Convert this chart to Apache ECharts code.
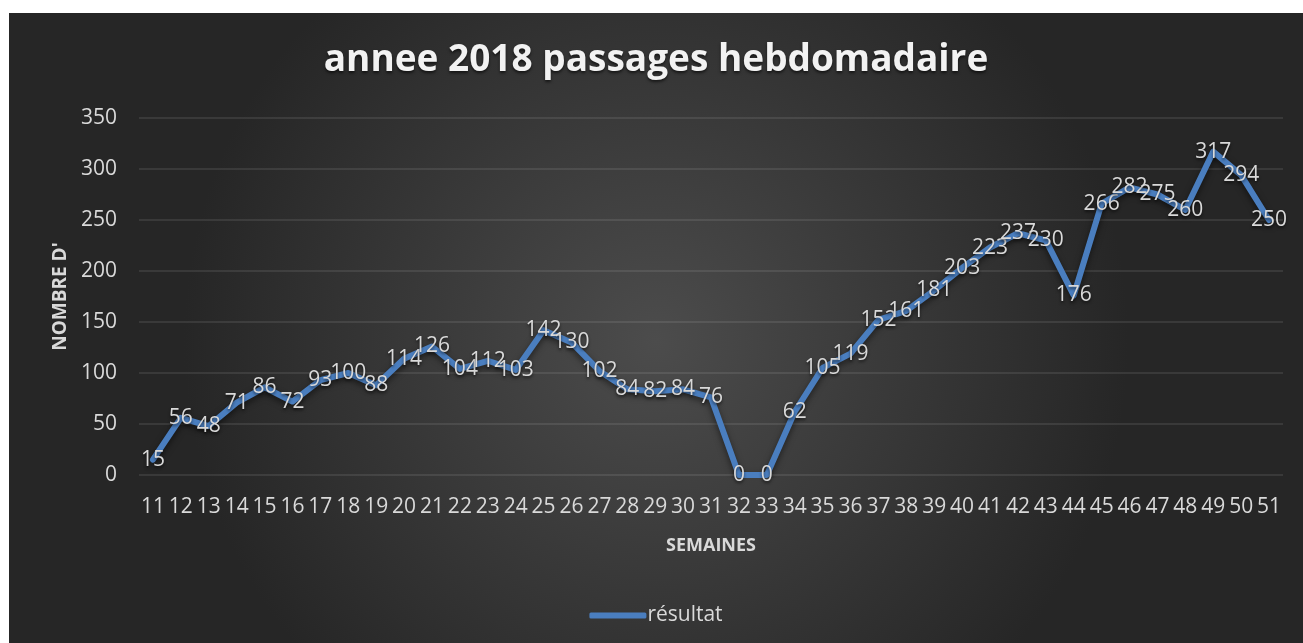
<!DOCTYPE html>
<html>
<head>
<meta charset="utf-8">
<title>annee 2018 passages hebdomadaire</title>
<script src="https://cdn.jsdelivr.net/npm/echarts@6/dist/echarts.min.js"></script>
<style>
  html, body { margin: 0; padding: 0; background: #ffffff; }
  #main { position: absolute; left: 9px; top: 13px; width: 1294px; height: 630px; }
</style>
</head>
<body>
<div id="main"></div>
<script>
// semaines 11 -> 51
const semaines = ['11','12','13','14','15','16','17','18','19','20',
  '21','22','23','24','25','26','27','28','29','30',
  '31','32','33','34','35','36','37','38','39','40',
  '41','42','43','44','45','46','47','48','49','50','51'];
const resultat = [15, 56, 48, 71, 86, 72, 93, 100, 88, 114,
  126, 104, 112, 103, 142, 130, 102, 84, 82, 84,
  76, 0, 0, 62, 105, 119, 152, 161, 181, 203,
  223, 237, 230, 176, 266, 282, 275, 260, 317, 294,
  250];

const police = '"Open Sans", "DejaVu Sans", sans-serif';
const texte = '#d9d9d9';
const bleu = '#4a7ebf';
const ombre = { textShadowColor: 'rgba(0,0,0,0.6)', textShadowBlur: 3, textShadowOffsetY: 2 };

const myChart = echarts.init(document.getElementById('main'));
const option = {
  backgroundColor: {
    type: 'radial', x: 0.5, y: 0.52, r: 0.75,
    colorStops: [
      { offset: 0, color: '#4c4c4c' },
      { offset: 1, color: '#262626' }
    ]
  },
  textStyle: { fontFamily: police },
  title: {
    text: 'annee 2018 passages hebdomadaire',
    left: 'center',
    top: 24,
    textStyle: Object.assign({ color: '#f2f2f2', fontSize: 37, fontWeight: 'bold', fontFamily: police }, ombre)
  },
  legend: {
    bottom: 12,
    left: 'center',
    icon: 'roundRect',
    itemWidth: 57,
    itemHeight: 6,
    itemGap: 10,
    textStyle: { color: texte, fontSize: 21, fontFamily: police, padding: [0, 0, 0, -4] }
  },
  grid: { left: 130, right: 20, top: 105, bottom: 168 },
  xAxis: {
    type: 'category',
    data: semaines,
    boundaryGap: true,
    name: 'SEMAINES',
    nameLocation: 'middle',
    nameGap: 62,
    nameTextStyle: { color: texte, fontSize: 18, fontWeight: 'bold', fontFamily: police },
    axisLine: { show: false },
    axisTick: { show: false },
    axisLabel: { color: texte, fontSize: 21, margin: 22, interval: 0, fontFamily: police }
  },
  yAxis: {
    type: 'value',
    min: 0,
    max: 350,
    interval: 50,
    name: "NOMBRE D'",
    nameLocation: 'middle',
    nameGap: 55,
    nameTextStyle: { color: texte, fontSize: 19, fontWeight: 'bold', fontFamily: police },
    axisLine: { show: false },
    axisTick: { show: false },
    axisLabel: { color: texte, fontSize: 21, margin: 22, fontFamily: police },
    splitLine: { lineStyle: { color: 'rgba(255,255,255,0.12)', width: 1.5 } }
  },
  series: [{
    name: 'résultat',
    type: 'line',
    data: resultat,
    symbol: 'circle',
    symbolSize: 2,
    showSymbol: true,
    color: bleu,
    itemStyle: { color: bleu },
    lineStyle: {
      width: 6,
      color: bleu,
      cap: 'round',
      join: 'round',
      shadowColor: 'rgba(0,0,0,0.5)',
      shadowBlur: 6,
      shadowOffsetY: 3
    },
    label: Object.assign({
      show: true,
      position: 'inside',
      color: texte,
      fontSize: 21,
      fontFamily: police
    }, ombre),
    labelLayout: { hideOverlap: false },
    animation: false
  }]
};
myChart.setOption(option);
</script>
</body>
</html>
